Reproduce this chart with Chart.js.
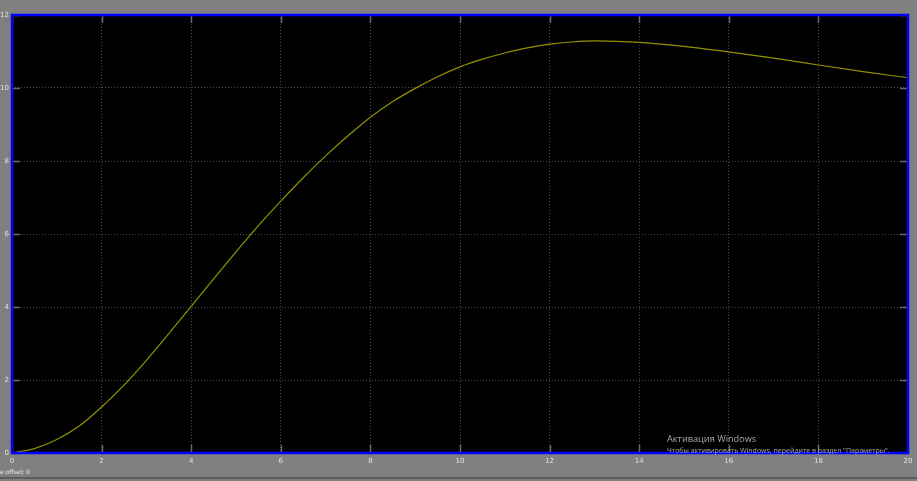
<!DOCTYPE html>
<html>
<head>
<meta charset="utf-8">
<script src="https://cdn.jsdelivr.net/npm/chart.js@4/dist/chart.umd.min.js"></script>
<style>
  body { margin: 0; background: #808080; }
  canvas { display: block; }
</style>
</head>
<body>
<canvas id="scope" width="917" height="481"></canvas>
<script>
// time samples and scope output
const times = [0, 0.5, 1, 1.5, 2, 2.5, 3, 3.5, 4, 4.5, 5, 5.5, 6, 6.5, 7, 7.5, 8, 8.5, 9, 9.5,
  10, 10.5, 11, 11.5, 12, 12.5, 13, 13.5, 14, 15, 16, 17, 18, 19, 20];
const output = [0, 0.12, 0.37, 0.74, 1.26, 1.86, 2.54, 3.27, 4.02, 4.77, 5.51, 6.23, 6.9, 7.54, 8.14, 8.69, 9.2, 9.63, 9.99, 10.31,
  10.58, 10.79, 10.96, 11.1, 11.2, 11.26, 11.29, 11.28, 11.25, 11.14, 10.99, 10.82, 10.63, 10.45, 10.28];
const xTicks = [0, 2, 4, 6, 8, 10, 12, 14, 16, 18, 20];
const yTicks = [0, 2, 4, 6, 8, 10, 12];

const points = times.map((t, i) => ({ x: t, y: output[i] }));

// black plot area, short tick marks on all four edges, blue frame, footer texts
const scopeFrame = {
  id: 'scopeFrame',
  beforeDraw(chart) {
    const { ctx, chartArea: a } = chart;
    ctx.save();
    ctx.fillStyle = '#000';
    ctx.fillRect(a.left, a.top, a.right - a.left, a.bottom - a.top);
    ctx.restore();
  },
  afterDatasetsDraw(chart) {
    const { ctx, chartArea: a, scales } = chart;
    ctx.save();
    ctx.strokeStyle = '#6a6a6a';
    ctx.lineWidth = 1.5;
    xTicks.forEach(v => {
      const px = Math.round(scales.x.getPixelForValue(v)) + 0.5;
      ctx.beginPath();
      ctx.moveTo(px, a.top); ctx.lineTo(px, a.top + 8);
      ctx.moveTo(px, a.bottom); ctx.lineTo(px, a.bottom - 8);
      ctx.stroke();
    });
    yTicks.forEach(v => {
      const py = Math.round(scales.y.getPixelForValue(v)) + 0.5;
      ctx.beginPath();
      ctx.moveTo(a.left, py); ctx.lineTo(a.left + 8, py);
      ctx.moveTo(a.right, py); ctx.lineTo(a.right - 8, py);
      ctx.stroke();
    });

    ctx.strokeStyle = '#0000ff';
    ctx.lineWidth = 2.5;
    ctx.strokeRect(a.left, a.top, a.right - a.left, a.bottom - a.top);

    // windows watermark from the screenshot
    ctx.fillStyle = '#a8a8a8';
    ctx.font = '9.2px "Open Sans"';
    ctx.fillText('Активация Windows', 667, 442);
    ctx.font = '7px "Open Sans"';
    ctx.fillText('Чтобы активировать Windows, перейдите в раздел "Параметры".', 667, 453);

    ctx.fillStyle = '#e8e8e8';
    ctx.font = '6px "DejaVu Sans"';
    ctx.fillText('e offset:', 0, 474);
    ctx.fillText('0', 26, 474);

    ctx.fillStyle = '#55605f';
    ctx.fillRect(0, 477, 917, 2);
    ctx.restore();
  }
};

new Chart(document.getElementById('scope'), {
  type: 'line',
  data: {
    datasets: [{
      data: points,
      borderColor: '#929200',
      borderWidth: 1.2,
      pointRadius: 0,
      cubicInterpolationMode: 'monotone'
    }]
  },
  options: {
    responsive: false,
    animation: false,
    layout: { padding: { top: 15, right: 9, left: 0, bottom: 0 } },
    plugins: { legend: { display: false }, tooltip: { enabled: false } },
    scales: {
      x: {
        type: 'linear', min: 0, max: 20,
        afterBuildTicks: s => { s.ticks = xTicks.map(v => ({ value: v })); },
        afterFit: s => { s.height = 28; },
        border: { display: false, dash: [1, 2] },
        grid: { color: '#4c4c4c', drawTicks: false, lineWidth: 1 },
        ticks: { color: '#e0e0e0', font: { size: 7, family: 'DejaVu Sans' }, padding: 4, maxRotation: 0 }
      },
      y: {
        min: 0, max: 12,
        afterBuildTicks: s => { s.ticks = yTicks.map(v => ({ value: v })); },
        afterFit: s => { s.width = 12; },
        border: { display: false, dash: [1, 2] },
        grid: { color: '#4c4c4c', drawTicks: false, lineWidth: 1 },
        ticks: { color: '#e0e0e0', font: { size: 7, family: 'DejaVu Sans' }, padding: 3 }
      }
    }
  },
  plugins: [scopeFrame]
});
</script>
</body>
</html>
